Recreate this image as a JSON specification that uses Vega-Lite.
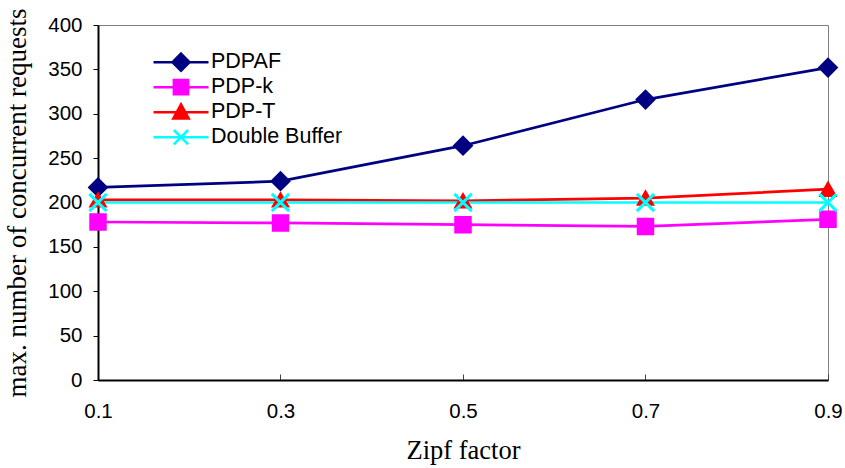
{
  "$schema": "https://vega.github.io/schema/vega-lite/v6.json",
  "width": 730,
  "height": 355,
  "autosize": "none",
  "padding": {"left": 98, "top": 25, "right": 17, "bottom": 88},
  "background": "white",
  "config": {
    "view": {"stroke": "#808080", "strokeWidth": 1},
    "font": "Liberation Sans"
  },
  "data": {
    "values": [
      {"series": "PDPAF", "zipf": 0.1, "value": 217},
      {"series": "PDPAF", "zipf": 0.3, "value": 224},
      {"series": "PDPAF", "zipf": 0.5, "value": 264},
      {"series": "PDPAF", "zipf": 0.7, "value": 316},
      {"series": "PDPAF", "zipf": 0.9, "value": 352},
      {"series": "PDP-k", "zipf": 0.1, "value": 178},
      {"series": "PDP-k", "zipf": 0.3, "value": 177},
      {"series": "PDP-k", "zipf": 0.5, "value": 175},
      {"series": "PDP-k", "zipf": 0.7, "value": 173},
      {"series": "PDP-k", "zipf": 0.9, "value": 181},
      {"series": "PDP-T", "zipf": 0.1, "value": 203},
      {"series": "PDP-T", "zipf": 0.3, "value": 203},
      {"series": "PDP-T", "zipf": 0.5, "value": 202},
      {"series": "PDP-T", "zipf": 0.7, "value": 205},
      {"series": "PDP-T", "zipf": 0.9, "value": 215},
      {"series": "Double Buffer", "zipf": 0.1, "value": 200},
      {"series": "Double Buffer", "zipf": 0.3, "value": 200},
      {"series": "Double Buffer", "zipf": 0.5, "value": 200},
      {"series": "Double Buffer", "zipf": 0.7, "value": 200},
      {"series": "Double Buffer", "zipf": 0.9, "value": 200}
    ]
  },
  "encoding": {
    "x": {
      "field": "zipf",
      "type": "quantitative",
      "scale": {"domain": [0.1, 0.9], "nice": false, "zero": false},
      "axis": {
        "values": [0.1, 0.3, 0.5, 0.7, 0.9],
        "format": ".1f",
        "title": "Zipf factor",
        "grid": false,
        "labelFlush": false,
        "domainColor": "black",
        "domainWidth": 2,
        "tickColor": "#444444",
        "tickSize": -6,
        "tickWidth": 1,
        "labelFont": "Liberation Sans",
        "labelFontSize": 20.5,
        "labelColor": "black",
        "labelPadding": 27,
        "titleFont": "Liberation Serif",
        "titleFontSize": 26.5,
        "titleFontWeight": "normal",
        "titleColor": "black",
        "titlePadding": 16
      }
    },
    "y": {
      "field": "value",
      "type": "quantitative",
      "scale": {"domain": [0, 400], "nice": false},
      "axis": {
        "values": [0, 50, 100, 150, 200, 250, 300, 350, 400],
        "title": "max. number of concurrent requests",
        "grid": false,
        "domainColor": "black",
        "domainWidth": 2,
        "tickColor": "black",
        "tickSize": 5,
        "tickWidth": 1,
        "labelFont": "Liberation Sans",
        "labelFontSize": 20.5,
        "labelColor": "black",
        "labelPadding": 11,
        "titleFont": "Liberation Serif",
        "titleFontSize": 27,
        "titleFontWeight": "normal",
        "titleColor": "black",
        "titlePadding": 16
      }
    },
    "color": {
      "field": "series",
      "type": "nominal",
      "sort": ["PDPAF", "PDP-k", "PDP-T", "Double Buffer"],
      "scale": {
        "domain": ["PDPAF", "PDP-k", "PDP-T", "Double Buffer"],
        "range": ["#000080", "#FF00FF", "#FF0000", "#00FFFF"]
      },
      "legend": {
        "title": null,
        "orient": "none",
        "legendX": 54,
        "legendY": 25,
        "padding": 0,
        "symbolSize": 3025,
        "symbolOffset": 0,
        "clipHeight": 24.3,
        "labelFont": "Liberation Sans",
        "labelFontSize": 21.5,
        "labelColor": "black",
        "labelOffset": 1,
        "rowPadding": 0,
        "encoding": {
          "symbols": {
            "shape": {"value": {"expr": "datum.value === 'PDPAF' ? 'M-1,0H1M0,-0.31L0.31,0L0,0.31L-0.31,0Z' : datum.value === 'PDP-k' ? 'M-1,0H1M-0.26,-0.26H0.26V0.26H-0.26Z' : datum.value === 'PDP-T' ? 'M-1,0H1M0,-0.28L0.28,0.23H-0.28Z' : 'M-1,0H1M-0.26,-0.26L0.26,0.26M-0.26,0.26L0.26,-0.26'"}},
            "fill": {"value": {"expr": "scale('color', datum.value)"}},
            "stroke": {"value": {"expr": "scale('color', datum.value)"}},
            "strokeWidth": {"value": 2.5},
            "opacity": {"value": 1},
            "size": {"value": 3025}
          }
        }
      }
    }
  },
  "layer": [
    {
      "mark": {"type": "line", "strokeWidth": 2.7},
      "encoding": {"detail": {"field": "series"}}
    },
    {
      "transform": [{"filter": "datum.series === 'PDPAF'"}],
      "mark": {"type": "point", "shape": "diamond", "size": 320, "filled": true, "opacity": 1, "stroke": "#000080", "strokeWidth": 2}
    },
    {
      "transform": [{"filter": "datum.series === 'PDP-k'"}],
      "mark": {"type": "point", "shape": "square", "size": 240, "filled": true, "opacity": 1, "stroke": "#FF00FF", "strokeWidth": 2}
    },
    {
      "transform": [{"filter": "datum.series === 'PDP-T'"}],
      "mark": {"type": "point", "shape": "triangle-up", "size": 240, "filled": true, "opacity": 1, "stroke": "#FF0000", "strokeWidth": 2}
    },
    {
      "transform": [{"filter": "datum.series === 'Double Buffer'"}],
      "mark": {"type": "point", "shape": "M-1,-1L1,1M-1,1L1,-1", "size": 300, "filled": true, "opacity": 1, "stroke": "#00FFFF", "strokeWidth": 3}
    }
  ]
}
